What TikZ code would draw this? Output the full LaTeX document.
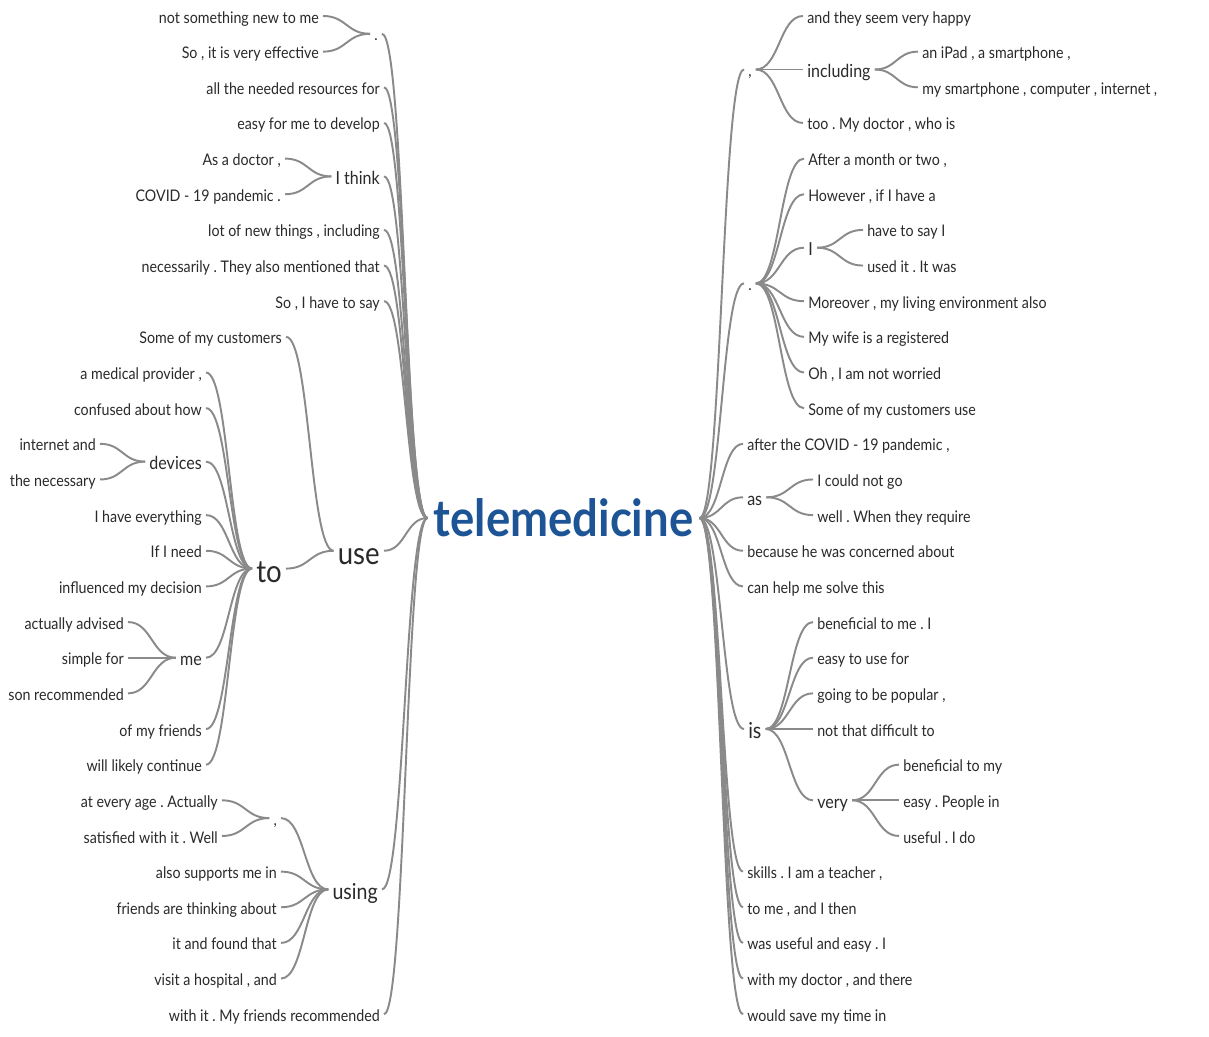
\documentclass[tikz,border=0pt]{standalone}
\usepackage{fontspec}
\setmainfont{Lato}[FakeStretch=0.89]
\usetikzlibrary{calc}
\definecolor{txt}{RGB}{42,42,42}
\definecolor{lnk}{RGB}{138,138,138}
\definecolor{rootblue}{RGB}{28,84,150}
\newcommand\wtlink[2]{\draw[conn] let \p1=(#1.east), \p2=(#2.west) in (\p1) .. controls ({(\x1+\x2)/2},\y1) and ({(\x1+\x2)/2},\y2) .. (\p2);}
\tikzset{
  base/.style={text=txt, inner xsep=3pt, inner ysep=0pt, text depth=0pt},
  lf/.style={base, font=\fontsize{12}{14}\selectfont, text height=10.56pt},
  md/.style={base, font=\fontsize{13.5}{16}\selectfont, text height=11.88pt},
  bg/.style={base, font=\fontsize{16.5}{19}\selectfont, text height=14.52pt},
  hg/.style={base, font=\fontsize{23.25}{26}\selectfont, text height=20.46pt},
  rt/.style={font=\fontsize{38.3}{42}\selectfont\bfseries, text=rootblue, inner xsep=4.5pt, inner ysep=0pt, text height=27pt, text depth=0pt},
  lft/.style={anchor=east},
  rgt/.style={anchor=west},
  conn/.style={draw=lnk, line width=1.45pt}
}
\frenchspacing
\begin{document}
\begin{tikzpicture}[x=0.75pt,y=-0.75pt]
\fill[white] (0,0) rectangle (1209,1036);
\useasboundingbox (0,0) rectangle (1209,1036);
\node[rt] (root) at (563.5,518) {telemedicine};
% ---------- left side ----------
\node[lf,lft] (Ldot) at (382,33.8) {.};
\node[lf,lft] (L01) at (323,16) {not something new to me};
\node[lf,lft] (L02) at (323,51.65) {So , it is very effective};
\node[lf,lft] (La) at (384,87.3) {all the needed resources for};
\node[lf,lft] (Lb) at (384,122.95) {easy for me to develop};
\node[md,lft] (Lth) at (384,176.4) {I think};
\node[lf,lft] (Lth1) at (285,158.6) {As a doctor ,};
\node[lf,lft] (Lth2) at (285,194.25) {COVID - 19 pandemic .};
\node[lf,lft] (Lc) at (384,229.9) {lot of new things , including};
\node[lf,lft] (Ld) at (384,265.55) {necessarily . They also mentioned that};
\node[lf,lft] (Le) at (384,301.2) {So , I have to say};
\node[hg,lft] (Luse) at (384,550.75) {use};
\node[lf,lft] (Lu1) at (286,336.85) {Some of my customers};
\node[hg,lft] (Lto) at (286,568.6) {to};
\node[lf,lft] (Lt1) at (206,372.5) {a medical provider ,};
\node[lf,lft] (Lt2) at (206,408.15) {confused about how};
\node[md,lft] (Ldev) at (206,461.6) {devices};
\node[lf,lft] (Ldev1) at (100,443.8) {internet and};
\node[lf,lft] (Ldev2) at (100,479.45) {the necessary};
\node[lf,lft] (Lt3) at (206,515.1) {I have everything};
\node[lf,lft] (Lt4) at (206,550.75) {If I need};
\node[lf,lft] (Lt5) at (206,586.4) {influenced my decision};
\node[md,lft] (Lme) at (206,657.7) {me};
\node[lf,lft] (Lme1) at (128,622.05) {actually advised};
\node[lf,lft] (Lme2) at (128,657.7) {simple for};
\node[lf,lft] (Lme3) at (128,693.35) {son recommended};
\node[lf,lft] (Lt6) at (206,729) {of my friends};
\node[lf,lft] (Lt7) at (206,764.65) {will likely continue};
\node[bg,lft] (Lusing) at (382,889.4) {using};
\node[lf,lft] (Lcom) at (281,818.1) {,};
\node[lf,lft] (Lcom1) at (222,800.3) {at every age . Actually};
\node[lf,lft] (Lcom2) at (222,835.95) {satisfied with it . Well};
\node[lf,lft] (Lg1) at (281,871.6) {also supports me in};
\node[lf,lft] (Lg2) at (281,907.25) {friends are thinking about};
\node[lf,lft] (Lg3) at (281,942.9) {it and found that};
\node[lf,lft] (Lg4) at (281,978.55) {visit a hospital , and};
\node[lf,lft] (Lf) at (384,1014.2) {with it . My friends recommended};
% ---------- right side ----------
\node[lf,rgt] (Rcom) at (744,69.5) {,};
\node[lf,rgt] (Rc1) at (803,16) {and they seem very happy};
\node[md,rgt] (Rinc) at (803,69.5) {including};
\node[lf,rgt] (Rinc1) at (918,51.65) {an iPad , a smartphone ,};
\node[lf,rgt] (Rinc2) at (918,87.3) {my smartphone , computer , internet ,};
\node[lf,rgt] (Rc2) at (803,122.95) {too . My doctor , who is};
\node[lf,rgt] (Rdot) at (744,283.4) {.};
\node[lf,rgt] (Rd1) at (804,158.6) {After a month or two ,};
\node[lf,rgt] (Rd2) at (804,194.25) {However , if I have a};
\node[md,rgt] (RI) at (804,247.7) {I};
\node[lf,rgt] (RI1) at (863,229.9) {have to say I};
\node[lf,rgt] (RI2) at (863,265.55) {used it . It was};
\node[lf,rgt] (Rd3) at (804,301.2) {Moreover , my living environment also};
\node[lf,rgt] (Rd4) at (804,336.85) {My wife is a registered};
\node[lf,rgt] (Rd5) at (804,372.5) {Oh , I am not worried};
\node[lf,rgt] (Rd6) at (804,408.15) {Some of my customers use};
\node[lf,rgt] (Ra) at (743,443.8) {after the COVID - 19 pandemic ,};
\node[md,rgt] (Ras) at (743,497.3) {as};
\node[lf,rgt] (Ras1) at (813,479.45) {I could not go};
\node[lf,rgt] (Ras2) at (813,515.1) {well . When they require};
\node[lf,rgt] (Rb) at (743,550.75) {because he was concerned about};
\node[lf,rgt] (Rc) at (743,586.4) {can help me solve this};
\node[bg,rgt] (Ris) at (744,729) {is};
\node[lf,rgt] (Ris1) at (813,622.05) {beneficial to me . I};
\node[lf,rgt] (Ris2) at (813,657.7) {easy to use for};
\node[lf,rgt] (Ris3) at (813,693.35) {going to be popular ,};
\node[lf,rgt] (Ris4) at (813,729) {not that difficult to};
\node[md,rgt] (Rvery) at (813,800.3) {very};
\node[lf,rgt] (Rv1) at (899,764.65) {beneficial to my};
\node[lf,rgt] (Rv2) at (899,800.3) {easy . People in};
\node[lf,rgt] (Rv3) at (899,835.95) {useful . I do};
\node[lf,rgt] (Re1) at (743,871.6) {skills . I am a teacher ,};
\node[lf,rgt] (Re2) at (743,907.25) {to me , and I then};
\node[lf,rgt] (Re3) at (743,942.9) {was useful and easy . I};
\node[lf,rgt] (Re4) at (743,978.55) {with my doctor , and there};
\node[lf,rgt] (Re5) at (743,1014.2) {would save my time in};
% ---------- connectors, left ----------
\foreach \c in {Ldot,La,Lb,Lth,Lc,Ld,Le,Luse,Lusing,Lf} {\wtlink{\c}{root}}
\foreach \c in {L01,L02} {\wtlink{\c}{Ldot}}
\foreach \c in {Lth1,Lth2} {\wtlink{\c}{Lth}}
\foreach \c in {Lu1,Lto} {\wtlink{\c}{Luse}}
\foreach \c in {Lt1,Lt2,Ldev,Lt3,Lt4,Lt5,Lme,Lt6,Lt7} {\wtlink{\c}{Lto}}
\foreach \c in {Ldev1,Ldev2} {\wtlink{\c}{Ldev}}
\foreach \c in {Lme1,Lme2,Lme3} {\wtlink{\c}{Lme}}
\foreach \c in {Lcom,Lg1,Lg2,Lg3,Lg4} {\wtlink{\c}{Lusing}}
\foreach \c in {Lcom1,Lcom2} {\wtlink{\c}{Lcom}}
% ---------- connectors, right ----------
\foreach \c in {Rcom,Rdot,Ra,Ras,Rb,Rc,Ris,Re1,Re2,Re3,Re4,Re5} {\wtlink{root}{\c}}
\foreach \c in {Rc1,Rinc,Rc2} {\wtlink{Rcom}{\c}}
\foreach \c in {Rinc1,Rinc2} {\wtlink{Rinc}{\c}}
\foreach \c in {Rd1,Rd2,RI,Rd3,Rd4,Rd5,Rd6} {\wtlink{Rdot}{\c}}
\foreach \c in {RI1,RI2} {\wtlink{RI}{\c}}
\foreach \c in {Ras1,Ras2} {\wtlink{Ras}{\c}}
\foreach \c in {Ris1,Ris2,Ris3,Ris4,Rvery} {\wtlink{Ris}{\c}}
\foreach \c in {Rv1,Rv2,Rv3} {\wtlink{Rvery}{\c}}
\end{tikzpicture}
\end{document}
